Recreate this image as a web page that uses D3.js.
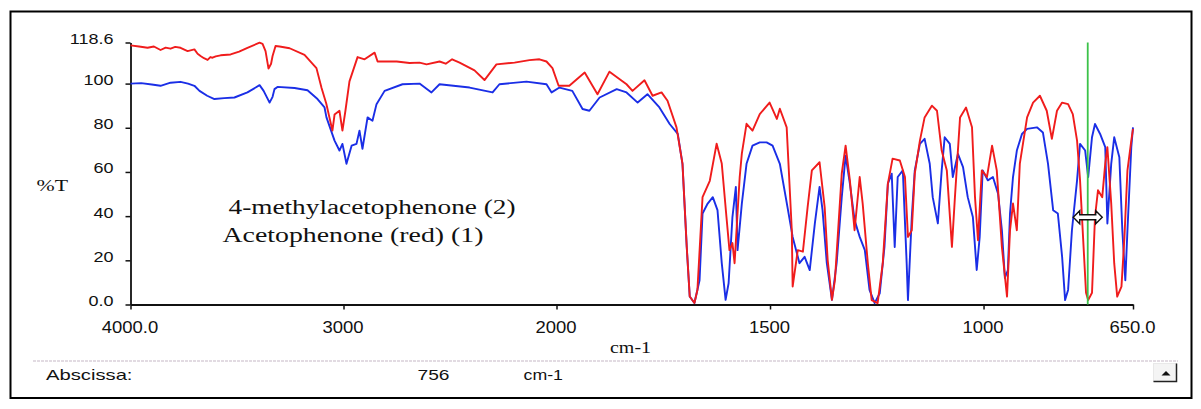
<!DOCTYPE html>
<html>
<head>
<meta charset="utf-8">
<script src="https://cdn.jsdelivr.net/npm/d3@7"></script>
<style>
  html, body { margin: 0; padding: 0; background: #ffffff; }
  svg { display: block; }
</style>
</head>
<body>
<svg id="chart" width="1201" height="409"></svg>
<script>
// ---------------- DATA ----------------
// Acetophenone (red) (1): [wavenumber cm-1, %T]
const acetophenone = [
  [4000,117.3],[3960,116.8],[3920,116.2],[3890,116.8],[3859,115.2],[3835,116.3],[3812,115.8],[3790,116.6],
  [3765,116.2],[3732,114.7],[3700,115.5],[3685,113.5],[3671,112.5],[3655,111.5],[3638,110.7],[3625,112],
  [3615,111.7],[3600,112.3],[3577,112.8],[3530,113.2],[3490,114.5],[3451,116.2],[3394,118.5],[3380,118],
  [3366,114.7],[3352,106.8],[3340,109],[3333,112.5],[3319,117],[3300,116.8],[3253,116],[3183,113],[3127,107],
  [3103,98],[3081,91],[3052,78.7],[3042,86],[3019,87.7],[3005,78.7],[2991,87.7],[2972,101],[2934,112],
  [2901,111],[2854,114],[2840,110],[2750,110],[2690,109.3],[2643,109.5],[2610,108.7],[2549,110],
  [2520,109],[2490,111],[2455,109.5],[2385,106],[2338,101.6],
  [2282,108.7],[2197,109.5],[2127,110.6],[2080,111],[2047,110],[2019,107],
  [1995,99],[1970,99],[1934,105],[1904,95.2],[1876,105.4],[1836,99.7],[1822,96.7],[1794,101.5],[1775,94.5],
  [1754,96],[1740,92.2],[1719,80.2],[1705,63.8],[1695,26],[1688,3.6],[1677,0.7],[1670,6.6],[1658,48.6],
  [1641,56],[1625,72.8],[1613,63.8],[1602,39.6],[1595,24.6],[1588,27.8],[1583,18.7],[1571,57.7],[1566,68.3],
  [1555,81.8],[1541,78.7],[1524,86.2],[1501,91.4],[1484,84],[1477,88.6],[1461,80.2],[1449,33.6],[1447,8.1],
  [1435,24.6],[1423,23.9],[1412,44],[1402,60.7],[1384,64.4],[1372,44],[1365,20.1],[1355,2.1],[1348,11],
  [1332,59.3],[1323,71.9],[1313,56.2],[1302,33.6],[1290,57.7],[1283,45.7],[1271,18.7],[1262,2],[1248,0.6],
  [1236,18.7],[1224,54.7],[1213,66],[1196,65.2],[1184,57.7],[1177,30.6],[1168,33.6],[1161,59.3],[1149,74.2],
  [1138,84.7],[1121,90],[1109,87.7],[1098,69.7],[1086,60.7],[1074,26.1],[1067,48.6],[1055,84.7],[1041,89.2],
  [1027,80.2],[1020,48.6],[1013,29.1],[1004,60.7],[992,57.7],[980,71.9],[969,60.7],[957,26],[945,3.6],
  [938,33.6],[931,45.7],[922,33.6],[915,63.8],[898,84.7],[884,91.4],[868,94.5],[852,87.7],[840,75],
  [828,87.7],[816,91.4],[802,90.7],[791,86.2],[781,74.2],[774,56.2],[767,30.6],[760,5.3],[755,2],[746,5.3],
  [739,39.6],[732,51.7],[722,48.6],[715,63.8],[710,71.2],[701,45.7],[694,18.7],[687,3.6],[677,8.1],
  [670,30.6],[663,60.7],[654,74.2],[650,79.5]
];

// 4-methylacetophenone (2) (blue): [wavenumber cm-1, %T]
const methylacetophenone = [
  [4000,100],[3950,100.2],[3900,99.6],[3859,99],[3812,100.4],[3765,100.8],[3730,100],[3700,99],[3676,96.7],
  [3640,94.5],[3606,93],[3560,93.4],[3512,93.7],[3451,96],[3394,99.3],[3375,96.7],[3347,91.4],[3333,94],
  [3324,97.5],[3310,98.5],[3230,98],[3169,97],[3122,93],
  [3089,89.2],[3080,84.7],[3042,74.2],[3019,69.7],[3005,72.7],[2986,63.7],[2962,71.9],[2939,72.7],
  [2925,78.7],[2911,70.5],[2887,84.7],[2864,83.2],[2845,90.7],[2807,96.7],[2723,99.7],[2643,100],
  [2587,96],[2549,99.7],[2408,98.2],[2300,96],[2268,99.7],[2141,100.9],[2047,99.7],[2023,96],
  [1993,98.2],[1963,96.7],[1939,88.5],[1923,87.7],[1899,93.7],[1859,97.5],[1836,96],[1810,91.4],
  [1787,95.2],[1759,89.2],[1735,81.7],[1716,77.2],[1705,63.7],[1695,26],[1688,3.6],[1677,0.7],[1665,11],
  [1658,41.2],[1646,45.7],[1634,48.6],[1623,42.7],[1613,18.7],[1604,2.1],[1597,9.6],[1588,39.6],
  [1580,53.2],[1576,24.6],[1566,45.7],[1555,63.7],[1541,71.9],[1524,73.4],[1508,73.4],[1494,71.9],
  [1477,63.7],[1459,44],[1447,30.6],[1431,18.7],[1419,21.6],[1407,15.6],[1395,36.7],[1384,53.2],
  [1377,42.7],[1367,18.7],[1355,2.1],[1344,18.7],[1332,48.6],[1323,67.4],[1313,54.7],[1302,38.2],
  [1290,30.6],[1278,24.6],[1267,6.6],[1255,0.6],[1243,5.1],[1232,26.1],[1224,54.7],[1215,59.2],[1208,26],
  [1201,57.7],[1189,60.7],[1180,18.7],[1177,2],[1168,39.6],[1161,60.7],[1149,72.7],[1138,75],[1126,63.7],
  [1119,48.6],[1107,36.7],[1098,60.7],[1091,75.7],[1079,72.7],[1072,57.7],[1060,68.2],[1048,62.2],
  [1037,48.6],[1025,39.6],[1016,15.6],[1009,30.6],[1002,60.7],[990,56.2],[978,57.7],[966,50.2],[957,33.6],
  [950,12],[943,15.6],[938,41.2],[931,57.7],[922,69.7],[910,77.2],[898,79.5],[875,80.2],[861,77.9],
  [849,63.7],[837,42.7],[826,41.2],[816,21.6],[809,2],[802,6.6],[793,33.6],[781,56.2],[774,72.7],
  [762,69.7],[755,57.7],[746,75.7],[739,81.7],[727,77.2],[715,71.2],[710,36.7],[701,63.7],[694,75.7],
  [682,66.7],[675,33.6],[668,11],[663,33.6],[654,71.2],[650,80.2]
];

const xTickValues = [4000, 3000, 2000, 1500, 1000, 650];
const xTickLabels = ["4000.0", "3000", "2000", "1500", "1000", "650.0"];
const yTickValues = [0, 20, 40, 60, 80, 100, 118.6];
const yTickLabels = ["0.0", "20", "40", "60", "80", "100", "118.6"];
const legendLines = ["4-methylacetophenone (2)", "Acetophenone (red) (1)"];
const cursorWavenumber = 756;
const cursorT = 39.5;
const statusLabel = "Abscissa:";
const statusValue = "756";
const statusUnit = "cm-1";
const xTitle = "cm-1";
const yTitle = "%T";

// ---------------- DRAW ----------------
const svg = d3.select("#chart");
const SANS = "'Liberation Sans', Arial, sans-serif";
const SERIF = "'Liberation Serif', 'Times New Roman', serif";

// outer frame
svg.append("rect").attr("x", 10.5).attr("y", 11.5).attr("width", 1181).attr("height", 386.5)
  .attr("fill", "#ffffff").attr("stroke", "#000").attr("stroke-width", 2);

const x = d3.scaleLinear().domain([4000, 2000, 650]).range([130.5, 556.5, 1133]);
const y = d3.scaleLinear().domain([0, 118.6]).range([304.5, 42.5]);

// axes
const xAxis = d3.axisBottom(x).tickValues(xTickValues).tickSize(5).tickSizeOuter(0)
  .tickFormat((d, i) => xTickLabels[i]);
const gx = svg.append("g").attr("transform", `translate(0,${y(0)})`).call(xAxis);
gx.select(".domain").attr("stroke", "#111").attr("stroke-width", 1.8);
gx.selectAll(".tick line").attr("stroke", "#111").attr("stroke-width", 1.5);
gx.selectAll(".tick text")
  .attr("y", 0).attr("dy", null)
  .attr("transform", "translate(-1,28.5) scale(1.12,1)")
  .attr("font-family", SANS).attr("font-size", 16.5).attr("fill", "#111");

const yAxis = d3.axisLeft(y).tickValues(yTickValues).tickSize(5).tickSizeOuter(0)
  .tickFormat((d, i) => yTickLabels[i]);
const gy = svg.append("g").attr("transform", `translate(${x(4000)},0)`).call(yAxis);
gy.select(".domain").attr("stroke", "#111").attr("stroke-width", 1.8);
gy.selectAll(".tick line").attr("stroke", "#111").attr("stroke-width", 1.5);
gy.selectAll(".tick text")
  .attr("x", 0).attr("dy", null)
  .attr("transform", "translate(-17,1) scale(1.2,1)")
  .attr("font-family", SANS).attr("font-size", 15).attr("fill", "#111");

// curves
const line = d3.line().x(d => x(d[0])).y(d => y(Math.max(0, d[1]))).curve(d3.curveLinear);
svg.append("path").datum(methylacetophenone).attr("d", line)
  .attr("fill", "none").attr("stroke", "#1a2ee6").attr("stroke-width", 1.9).attr("stroke-linejoin", "round");
svg.append("path").datum(acetophenone).attr("d", line)
  .attr("fill", "none").attr("stroke", "#f01c1c").attr("stroke-width", 1.9).attr("stroke-linejoin", "round");

// cursor line
svg.append("line").attr("x1", x(cursorWavenumber)).attr("x2", x(cursorWavenumber))
  .attr("y1", y(118.6)).attr("y2", y(0))
  .attr("stroke", "#3cc24a").attr("stroke-width", 1.8);

// cursor double arrow
const cx = x(cursorWavenumber), cy = y(cursorT);
svg.append("path")
  .attr("d", "M-14.5,0 L-8,-6.5 L-8,-2.5 L8,-2.5 L8,-6.5 L14.5,0 L8,6.5 L8,2.5 L-8,2.5 L-8,6.5 Z")
  .attr("transform", `translate(${cx},${cy})`)
  .attr("fill", "#ffffff").attr("stroke", "#111").attr("stroke-width", 1.4);

// axis titles
svg.append("text").attr("x", 36.5).attr("y", 190.5).text(yTitle)
  .attr("font-family", SERIF).attr("font-size", 16).attr("fill", "#111")
  .attr("textLength", 31.5).attr("lengthAdjust", "spacingAndGlyphs");
svg.append("text").attr("x", 610).attr("y", 353).text(xTitle)
  .attr("font-family", SERIF).attr("font-size", 16).attr("fill", "#111")
  .attr("textLength", 41).attr("lengthAdjust", "spacingAndGlyphs");

// legend texts
const legendPos = [[228.5, 213.5, 287], [222.5, 241.5, 261]];
legendLines.forEach((t, i) => {
  svg.append("text").attr("x", legendPos[i][0]).attr("y", legendPos[i][1]).text(t)
    .attr("font-family", SERIF).attr("font-size", 20).attr("fill", "#111")
    .attr("textLength", legendPos[i][2]).attr("lengthAdjust", "spacingAndGlyphs");
});

// status bar separator
svg.append("line").attr("x1", 33).attr("x2", 1178).attr("y1", 361).attr("y2", 361)
  .attr("stroke", "#d9cfd9").attr("stroke-width", 1.5).attr("stroke-dasharray", "3,1");

// status texts
[[46, statusLabel, 86.5], [417.5, statusValue, 32], [523.5, statusUnit, 39.5]].forEach(s => {
  svg.append("text").attr("x", s[0]).attr("y", 379.5).text(s[1])
    .attr("font-family", SANS).attr("font-size", 15).attr("fill", "#111")
    .attr("textLength", s[2]).attr("lengthAdjust", "spacingAndGlyphs");
});

// scroll button
svg.append("rect").attr("x", 1153.5).attr("y", 363.5).attr("width", 23).attr("height", 18)
  .attr("fill", "#f4f4f4").attr("stroke", "#e8e8e8").attr("stroke-width", 1);
svg.append("path").attr("d", "M1153.5,381.5 L1176.5,381.5 L1176.5,363.5")
  .attr("fill", "none").attr("stroke", "#222").attr("stroke-width", 1.5);
svg.append("path").attr("d", "M1161.5,375.5 L1170.5,375.5 L1166,371 Z")
  .attr("fill", "#111");
</script>
</body>
</html>
